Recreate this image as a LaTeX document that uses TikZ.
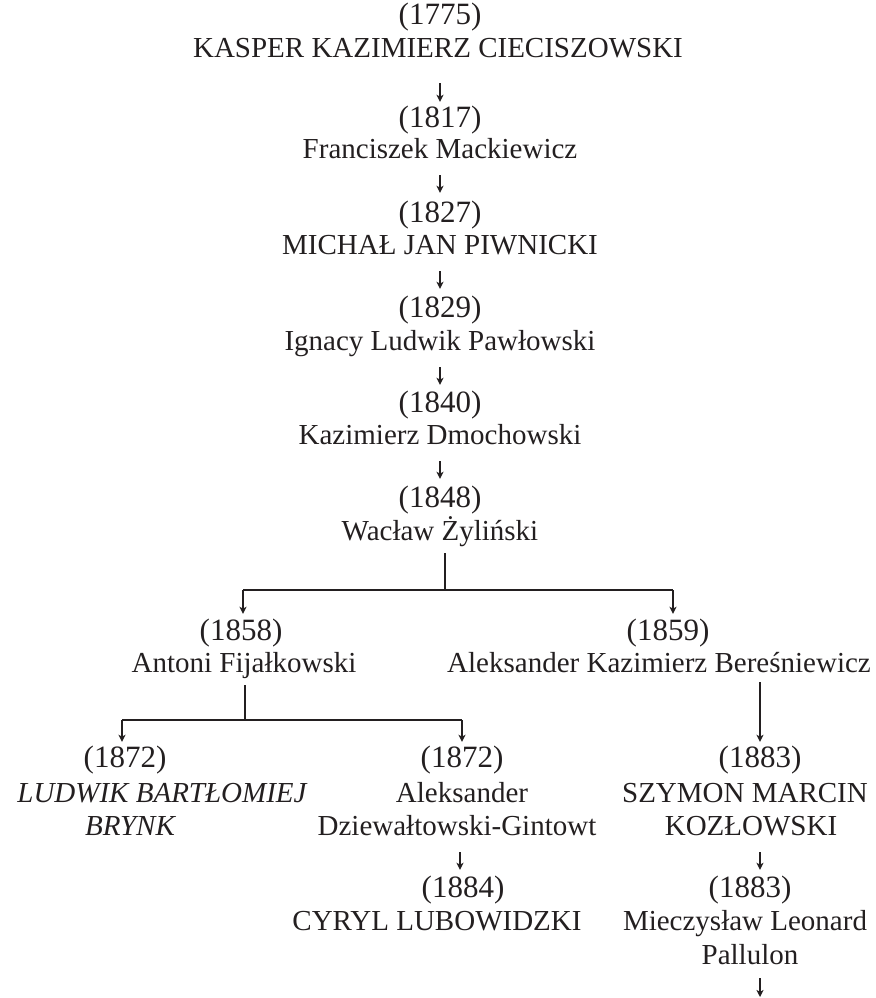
\documentclass[tikz,border=0pt]{standalone}
\usepackage{fontspec}
\setmainfont{Liberation Serif}
\usetikzlibrary{arrows.meta}
\definecolor{ink}{HTML}{231F20}
\begin{document}
\begin{tikzpicture}[x=1pt,y=-1pt,
  lbl/.style={inner sep=0pt,text height=20pt,text depth=6pt,text=ink,font=\fontsize{29}{32}\selectfont},
  yr/.style={lbl,font=\fontsize{31}{32}\selectfont},
  ital/.style={lbl,font=\fontsize{29}{32}\selectfont\itshape},
  arr/.style={draw=ink,line width=1.5pt,-{Stealth[length=7pt,width=7pt,inset=1.8pt]},shorten <=11pt,shorten >=9pt},
  branch/.style={draw=ink,line width=2.2pt}]
\useasboundingbox (0,0) rectangle (875,998);

% main column
\node[yr]  (y1) at (440,18)  {(1775)};
\node[lbl] (n1) at (438,50)  {KASPER KAZIMIERZ CIECISZOWSKI};
\node[yr]  (y2) at (440,120) {(1817)};
\node[lbl] (n2) at (440,151) {Franciszek Mackiewicz};
\node[yr]  (y3) at (440,215) {(1827)};
\node[lbl] (n3) at (440,247) {MICHAŁ JAN PIWNICKI};
\node[yr]  (y4) at (440,310) {(1829)};
\node[lbl] (n4) at (440,343) {Ignacy Ludwik Pawłowski};
\node[yr]  (y5) at (440,405) {(1840)};
\node[lbl] (n5) at (440,437) {Kazimierz Dmochowski};
\node[yr]  (y6) at (440,500) {(1848)};
\node[lbl] (n6) at (440,533) {Wacław Żyliński};

% second level
\node[yr]  (y7a) at (241,633) {(1858)};
\node[lbl] (n7a) at (244,665) {Antoni Fijałkowski};
\node[yr]  (y7b) at (668,633) {(1859)};
\node[lbl] (n7b) at (659,665) {Aleksander Kazimierz Bereśniewicz};

% third level
\node[yr]   (y8a)  at (125,760) {(1872)};
\node[ital] (n8a1) at (162,795) {LUDWIK BARTŁOMIEJ};
\node[ital] (n8a2) at (130,828) {BRYNK};

\node[yr]  (y8b)  at (462,760) {(1872)};
\node[lbl] (n8b1) at (462,795) {Aleksander};
\node[lbl] (n8b2) at (457,828) {Dziewałtowski-Gintowt};
\node[yr]  (y9b)  at (463,890) {(1884)};
\node[lbl] (n9b)  at (437,923) {CYRYL LUBOWIDZKI};

\node[yr]  (y8c)  at (760,760) {(1883)};
\node[lbl] (n8c1) at (745,795) {SZYMON MARCIN};
\node[lbl] (n8c2) at (751,828) {KOZŁOWSKI};
\node[yr]  (y9c)  at (750,890) {(1883)};
\node[lbl] (n9c1) at (745,923) {Mieczysław Leonard};
\node[lbl] (n9c2) at (750,957) {Pallulon};

% junction coordinates
\coordinate (j1) at (445,590);
\coordinate (k1) at (243,590);
\coordinate (k2) at (673,590);
\coordinate (j2) at (245,720);
\coordinate (k3) at (122,720);
\coordinate (k4) at (462,720);
\coordinate (c1) at (460,0);
\coordinate (c2) at (760,0);
\coordinate (fin) at (760,997);

% main column arrows
\draw[arr,shorten <=20pt,shorten >=5pt] (n1.south -| y2) -- (y2.north);
\draw[arr,shorten >=9pt] (n2.south) -- (y3.north);
\draw[arr,shorten >=8pt] (n3.south) -- (y4.north);
\draw[arr,shorten >=7pt] (n4.south) -- (y5.north);
\draw[arr,shorten >=8pt] (n5.south) -- (y6.north);

% first branch
\draw[branch,shorten <=7pt] (j1 |- n6.south) -- (j1);
\draw[branch] (k1) -- (k2);
\draw[arr,shorten <=0pt,shorten >=6pt] (k1) -- (k1 |- y7a.north);
\draw[arr,shorten <=0pt,shorten >=6pt] (k2) -- (k2 |- y7b.north);

% second branch
\draw[branch,shorten <=7pt] (j2 |- n7a.south) -- (j2);
\draw[branch] (k3) -- (k4);
\draw[arr,shorten <=0pt,shorten >=5pt] (k3) -- (k3 |- y8a.north);
\draw[arr,shorten <=0pt,shorten >=5pt] (k4) -- (k4 |- y8b.north);

% right descent
\draw[arr,line width=2pt,shorten <=4pt,shorten >=5pt] (y8c.north |- n7b.south) -- (y8c.north);

% lower arrows
\draw[arr,shorten >=7pt] (c1 |- n8b2.south) -- (c1 |- y9b.north);
\draw[arr,shorten >=7pt] (c2 |- n8c2.south) -- (c2 |- y9c.north);
\draw[arr,shorten <=8pt,shorten >=0pt] (c2 |- n9c2.south) -- (fin);
\end{tikzpicture}
\end{document}
